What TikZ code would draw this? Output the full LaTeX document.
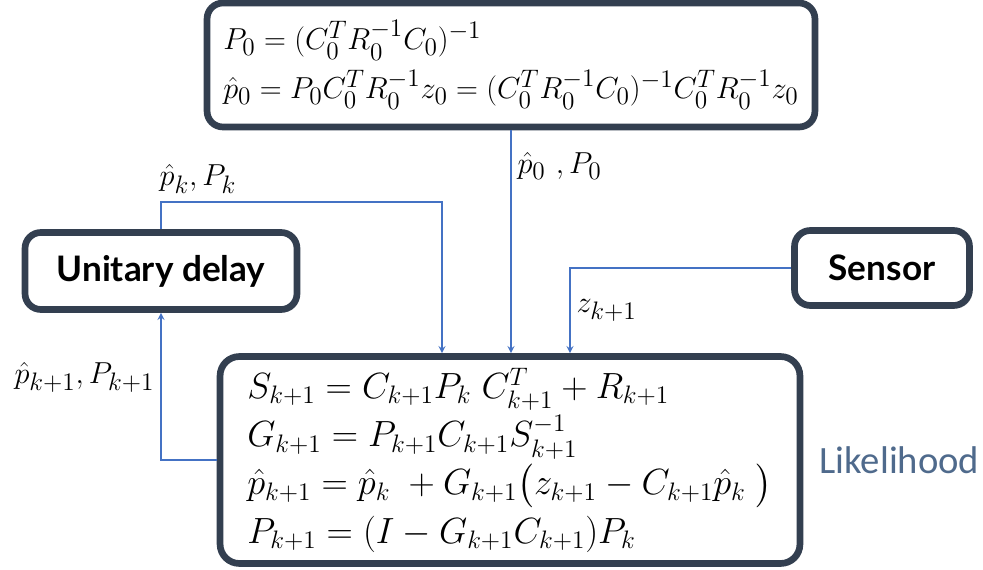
\documentclass[tikz,border=0pt]{standalone}
\usepackage{fontspec}
\usepackage{amsmath}
\usetikzlibrary{positioning,shadows}
\newfontfamily\blockfont{Lato}
\newfontfamily\notefont{Carlito}
\definecolor{slate}{HTML}{333F50}
\definecolor{flowblue}{HTML}{4472C4}
\definecolor{steel}{HTML}{4F6A8C}

\begin{document}
\begin{tikzpicture}[x=0.02cm, y=-0.02cm,
  block/.style={rectangle, rounded corners=9pt, draw=slate, fill=white, line width=3.8pt,
                drop shadow={shadow xshift=1.5pt, shadow yshift=-1.5pt, opacity=0.3}},
  eqs/.style={align=left, inner sep=0pt, font=\fontsize{19}{28}\selectfont},
  title/.style={font=\blockfont\bfseries\fontsize{20}{22}\selectfont},
  feed/.style={->, >=stealth, line width=0.8pt, color=flowblue},
  lbl/.style={text=black, font=\fontsize{19}{22}\selectfont}
]
\useasboundingbox (0,0) rectangle (983,570);

\node[block, eqs, minimum width=12.16cm, minimum height=2.48cm] (init) at (511,65)
  {$P_0 = (C_0^T R_0^{-1} C_0)^{-1}$\\
   $\hat{p}_0 = P_0 C_0^T R_0^{-1} z_0 = (C_0^T R_0^{-1} C_0)^{-1} C_0^T R_0^{-1} z_0$};
\node[block, title, minimum width=5.44cm, minimum height=1.54cm] (delay) at (161,271) {Unitary delay};
\node[block, title, minimum width=3.5cm, minimum height=1.5cm] (sensor) at (882,268) {Sensor};
\node[block, eqs, font=\fontsize{19.8}{25.5}\selectfont, minimum width=11.6cm, minimum height=4.14cm,
      rounded corners=11pt] (update) at (510,460)
  {$S_{k+1} = C_{k+1} P_k\; C_{k+1}^T + R_{k+1}$\\[2pt]
   $G_{k+1} = P_{k+1} C_{k+1} S_{k+1}^{-1}$\\[2pt]
   $\hat{p}_{k+1} = \hat{p}_k\; + G_{k+1}\bigl(z_{k+1} - C_{k+1}\hat{p}_k\;\bigr)$\\[2pt]
   $P_{k+1} = (I - G_{k+1} C_{k+1}) P_k$};
\node[font=\notefont\fontsize{22}{26}\selectfont, text=steel, right=0.2cm of update] (like) {Likelihood};

\draw[feed] (init.south) -- (init.south |- update.north)
  node[lbl, right, pos=0.16] {$\hat{p}_0\ ,P_0$};
\draw[feed] (delay.north) -- ++(0,-27) coordinate (turn)
  node[lbl, above=0.05cm, xshift=0.74cm] {$\hat{p}_k, P_k$}
  -| ([xshift=-1.36cm]update.north);
\draw[feed] (sensor.west) -| ([xshift=1.2cm]update.north)
  node[lbl, right, pos=0.75] {$z_{k+1}$};
\draw[feed] (update.west) -| (delay.south)
  node[lbl, left, pos=0.78] {$\hat{p}_{k+1}, P_{k+1}$};
\end{tikzpicture}
\end{document}
